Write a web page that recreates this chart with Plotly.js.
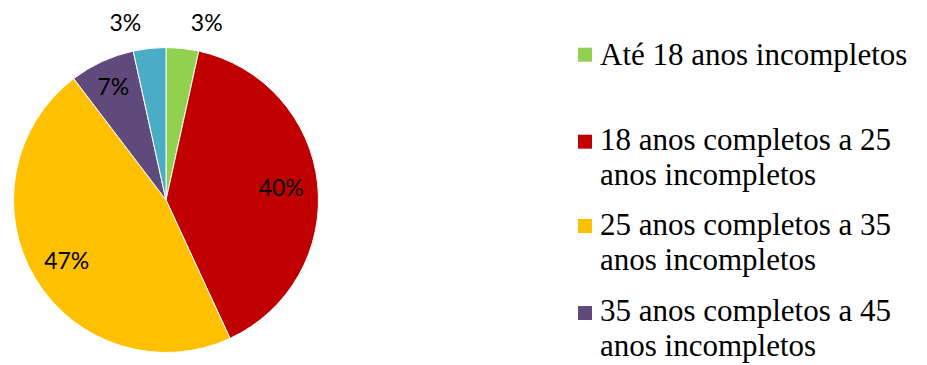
<!DOCTYPE html>
<html>
<head>
<meta charset="utf-8">
<script src="https://cdn.plot.ly/plotly-3.0.1.min.js"></script>
<style>
html,body{margin:0;padding:0;background:#fff;}
#chart{width:927px;height:365px;}
</style>
</head>
<body>
<div id="chart"></div>
<script>
// ---- data ----
const categories = [
  "Até 18 anos incompletos",
  "18 anos completos a 25 anos incompletos",
  "25 anos completos a 35 anos incompletos",
  "35 anos completos a 45 anos incompletos",
  "45 anos completos ou mais"
];
// legend entries as drawn in the reference (wrapped lines; 5th entry is cut off)
const legendLines = [
  ["Até 18 anos incompletos"],
  ["18 anos completos a 25", "anos incompletos"],
  ["25 anos completos a 35", "anos incompletos"],
  ["35 anos completos a 45", "anos incompletos"]
];
const counts = [2, 23, 27, 4, 2];
const sliceColors = ["#92D050", "#C00000", "#FFC000", "#604A7B", "#4BACC6"];

// ---- style / layout ----
const W = 927, H = 365;
const labelPositions = ["outside", "inside", "inside", "inside", "outside"];
const labelPull = [0.082, 0, 0, 0, 0.082];
const clear = counts.map(() => "rgba(0,0,0,0)");

const pieTrace = {
  type: "pie",
  labels: categories,
  values: counts,
  sort: false,
  direction: "clockwise",
  rotation: 0,
  marker: {colors: sliceColors, line: {color: "#ffffff", width: 1}},
  textinfo: "none",
  hoverinfo: "label+percent",
  showlegend: false,
  domain: {x: [13.5 / W, 318.5 / W], y: [1 - 352.5 / H, 1 - 47.5 / H]}
};

// transparent ring used only to place the percentage labels
const labelTrace = {
  type: "pie",
  labels: categories,
  values: counts,
  sort: false,
  direction: "clockwise",
  rotation: 0,
  hole: 0.52,
  pull: labelPull,
  marker: {colors: clear, line: {width: 0}},
  texttemplate: "%{percent:.0%}",
  textposition: labelPositions,
  insidetextorientation: "horizontal",
  textfont: {family: "Lato, 'Open Sans', sans-serif", size: 23, color: "#000000"},
  hoverinfo: "skip",
  showlegend: false,
  domain: {x: [1 / W, 331 / W], y: [0, 1 - 35 / H]}
};

const legendFont = {family: "'Liberation Serif', 'Times New Roman', serif", size: 31, color: "#000000"};
const lineBaselines = [[63.3], [148.3, 183.3], [233.3, 268.3], [320, 355]];
const squareMid = [54.7, 141.7, 226, 313];
const ascent = 0.891 * legendFont.size + 1;

const annotations = [];
legendLines.forEach((lines, i) => {
  lines.forEach((line, j) => {
    annotations.push({
      xref: "paper", yref: "paper",
      x: 598 / W, y: 1 - (lineBaselines[i][j] - ascent) / H,
      xanchor: "left", yanchor: "top", align: "left",
      showarrow: false,
      text: line,
      font: legendFont
    });
  });
});
const shapes = legendLines.map((t, i) => ({
  type: "rect", xref: "paper", yref: "paper",
  x0: 578 / W, x1: 592 / W,
  y0: 1 - (squareMid[i] + 7) / H, y1: 1 - (squareMid[i] - 7) / H,
  fillcolor: sliceColors[i], line: {width: 0}
}));

const layout = {
  width: W,
  height: H,
  margin: {l: 0, r: 0, t: 0, b: 0, autoexpand: false},
  paper_bgcolor: "#ffffff",
  plot_bgcolor: "#ffffff",
  showlegend: false,
  annotations: annotations,
  shapes: shapes
};

Plotly.newPlot("chart", [pieTrace, labelTrace], layout, {displayModeBar: false, staticPlot: true});
</script>
</body>
</html>
